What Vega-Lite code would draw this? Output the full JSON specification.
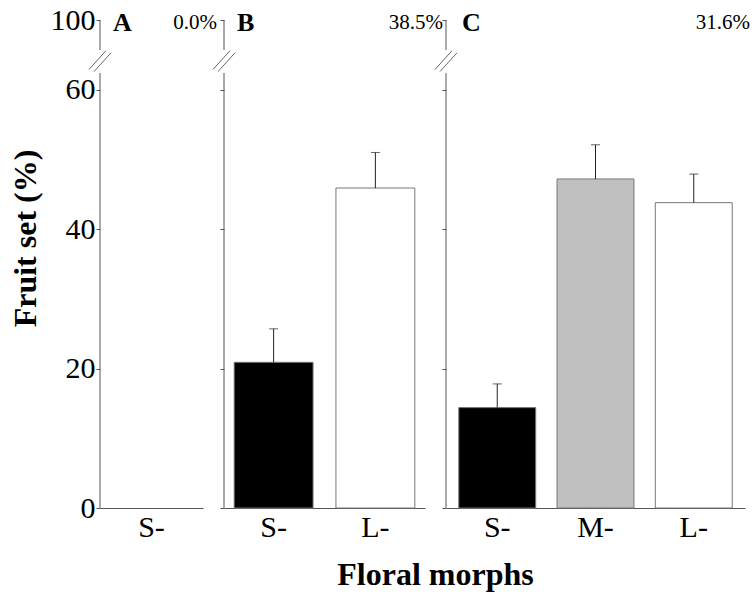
{
  "$schema": "https://vega.github.io/schema/vega-lite/v6.json",
  "background": "white",
  "padding": {"left": 9, "top": 5, "right": 5, "bottom": 5},
  "bounds": "flush",
  "spacing": 21,
  "config": {"font": "Liberation Serif", "view": {"stroke": null}, "text": {"font": "Liberation Serif"}},
  "title": {"text": "Floral morphs", "orient": "bottom", "anchor": "middle", "fontSize": 32, "fontWeight": "bold", "font": "Liberation Serif", "offset": 18, "dx": 56},
  "datasets": {
    "A": [{"morph": "S-", "value": 0, "upper": 0}],
    "B": [{"morph": "S-", "value": 20.9, "upper": 25.7}, {"morph": "L-", "value": 45.9, "upper": 51.0}],
    "C": [{"morph": "S-", "value": 14.4, "upper": 17.8}, {"morph": "M-", "value": 47.2, "upper": 52.1}, {"morph": "L-", "value": 43.8, "upper": 47.9}],
    "axisseg": [{"x": 0, "y": 0, "y2": 62.4}, {"x": 0, "y": 65.7, "y2": 70}],
    "breaks": [{"x": -11, "x2": 6, "y": 62.9, "y2": 65.6}, {"x": -6, "x2": 11, "y": 62.6, "y2": 65.3}],
    "labA": [{"x": 13, "y": 69.6, "t": "A", "p": "0.0%", "px": 117}],
    "labB": [{"x": 13, "y": 69.6, "t": "B", "p": "38.5%", "px": 219}],
    "labC": [{"x": 16, "y": 69.6, "t": "C", "p": "31.6%", "px": 304}]
  },
  "hconcat": [
    {
      "width": 103, "height": 488,
      "resolve": {"scale": {"x": "independent"}, "axis": {"x": "independent"}},
      "layer": [
        {
          "data": {"name": "A"},
          "mark": {"type": "bar", "opacity": 0},
          "encoding": {
            "x": {"field": "morph", "type": "nominal", "sort": ["S-"], "scale": {"paddingInner": 0.22, "paddingOuter": 0.1},
                  "axis": {"title": null, "labelAngle": 0, "ticks": false, "domainColor": "#555", "labelFont": "Liberation Serif", "labelFontSize": 30, "labelColor": "#000", "labelPadding": 4}},
            "y": {"field": "value", "type": "quantitative", "scale": {"domain": [0, 70], "nice": false, "zero": true},
                  "axis": {"values": [0, 20, 40, 60, 70], "labelExpr": "datum.value == 70 ? '100' : datum.label", "domain": false, "grid": false,
                           "tickSize": 4, "tickColor": "#555", "labelFont": "Liberation Serif", "labelFontSize": 30, "labelColor": "#000", "labelPadding": 1,
                           "title": "Fruit set (%)", "titleFont": "Liberation Serif", "titleFontSize": 32, "titleFontWeight": "bold", "titleColor": "#000", "titlePadding": 8, "titleY": 218}}
          }
        },
        {
          "data": {"name": "axisseg"},
          "mark": {"type": "rule", "color": "#555", "strokeWidth": 1},
          "encoding": {
            "x": {"field": "x", "type": "quantitative", "scale": {"domain": [0, 103], "nice": false}, "axis": null},
            "y": {"field": "y", "type": "quantitative", "scale": {"domain": [0, 70], "nice": false}, "title": "Fruit set (%)"},
            "y2": {"field": "y2"}
          }
        },
        {
          "data": {"name": "breaks"},
          "mark": {"type": "rule", "color": "#666", "strokeWidth": 1},
          "encoding": {
            "x": {"field": "x", "type": "quantitative", "scale": {"domain": [0, 103], "nice": false}, "axis": null},
            "x2": {"field": "x2"},
            "y": {"field": "y", "type": "quantitative", "scale": {"domain": [0, 70], "nice": false}, "title": "Fruit set (%)"},
            "y2": {"field": "y2"}
          }
        },
        {
          "data": {"name": "labA"},
          "mark": {"type": "text", "font": "Liberation Serif", "fontWeight": "bold", "fontSize": 26, "align": "left", "baseline": "middle", "color": "#000"},
          "encoding": {
            "x": {"field": "x", "type": "quantitative", "scale": {"domain": [0, 103], "nice": false}, "axis": null},
            "y": {"field": "y", "type": "quantitative", "scale": {"domain": [0, 70], "nice": false}, "title": "Fruit set (%)"},
            "text": {"field": "t"}
          }
        },
        {
          "data": {"name": "labA"},
          "mark": {"type": "text", "font": "Liberation Serif", "fontSize": 21, "align": "right", "baseline": "middle", "color": "#000"},
          "encoding": {
            "x": {"field": "px", "type": "quantitative", "scale": {"domain": [0, 103], "nice": false}, "axis": null},
            "y": {"field": "y", "type": "quantitative", "scale": {"domain": [0, 70], "nice": false}, "title": "Fruit set (%)"},
            "text": {"field": "p"}
          }
        }
      ]
    },
    {
      "width": 201, "height": 488,
      "resolve": {"scale": {"x": "independent"}, "axis": {"x": "independent"}},
      "layer": [
        {
          "layer": [
            {
              "data": {"name": "B"},
              "mark": {"type": "bar", "stroke": "#777", "strokeWidth": 1},
              "encoding": {
                "x": {"field": "morph", "type": "nominal", "sort": ["S-", "L-"], "scale": {"paddingInner": 0.225, "paddingOuter": 0.1},
                      "axis": {"title": null, "labelAngle": 0, "ticks": false, "domainColor": "#555", "labelFont": "Liberation Serif", "labelFontSize": 30, "labelColor": "#000", "labelPadding": 4}},
                "y": {"field": "value", "type": "quantitative", "scale": {"domain": [0, 70], "nice": false, "zero": true},
                      "axis": {"values": [0, 20, 40, 60, 70], "labels": false, "domain": false, "grid": false, "tickSize": 4, "tickColor": "#555", "title": null}},
                "color": {"field": "morph", "type": "nominal", "scale": {"domain": ["S-", "M-", "L-"], "range": ["#000000", "#c0c0c0", "#ffffff"]}, "legend": null}
              }
            },
            {
              "data": {"name": "B"},
              "mark": {"type": "rule", "color": "#222", "strokeWidth": 1},
              "encoding": {
                "x": {"field": "morph", "type": "nominal", "sort": ["S-", "L-"]},
                "y": {"field": "value", "type": "quantitative", "scale": {"domain": [0, 70], "nice": false}, "title": null},
                "y2": {"field": "upper"}
              }
            },
            {
              "data": {"name": "B"},
              "mark": {"type": "tick", "color": "#222", "size": 9, "thickness": 1},
              "encoding": {
                "x": {"field": "morph", "type": "nominal", "sort": ["S-", "L-"]},
                "y": {"field": "upper", "type": "quantitative", "scale": {"domain": [0, 70], "nice": false}, "title": null}
              }
            }
          ]
        },
        {
          "data": {"name": "axisseg"},
          "mark": {"type": "rule", "color": "#555", "strokeWidth": 1},
          "encoding": {
            "x": {"field": "x", "type": "quantitative", "scale": {"domain": [0, 201], "nice": false}, "axis": null},
            "y": {"field": "y", "type": "quantitative", "scale": {"domain": [0, 70], "nice": false}, "title": null},
            "y2": {"field": "y2"}
          }
        },
        {
          "data": {"name": "breaks"},
          "mark": {"type": "rule", "color": "#666", "strokeWidth": 1},
          "encoding": {
            "x": {"field": "x", "type": "quantitative", "scale": {"domain": [0, 201], "nice": false}, "axis": null},
            "x2": {"field": "x2"},
            "y": {"field": "y", "type": "quantitative", "scale": {"domain": [0, 70], "nice": false}, "title": null},
            "y2": {"field": "y2"}
          }
        },
        {
          "data": {"name": "labB"},
          "mark": {"type": "text", "font": "Liberation Serif", "fontWeight": "bold", "fontSize": 26, "align": "left", "baseline": "middle", "color": "#000"},
          "encoding": {
            "x": {"field": "x", "type": "quantitative", "scale": {"domain": [0, 201], "nice": false}, "axis": null},
            "y": {"field": "y", "type": "quantitative", "scale": {"domain": [0, 70], "nice": false}, "title": null},
            "text": {"field": "t"}
          }
        },
        {
          "data": {"name": "labB"},
          "mark": {"type": "text", "font": "Liberation Serif", "fontSize": 21, "align": "right", "baseline": "middle", "color": "#000"},
          "encoding": {
            "x": {"field": "px", "type": "quantitative", "scale": {"domain": [0, 201], "nice": false}, "axis": null},
            "y": {"field": "y", "type": "quantitative", "scale": {"domain": [0, 70], "nice": false}, "title": null},
            "text": {"field": "p"}
          }
        }
      ]
    },
    {
      "width": 299, "height": 488,
      "resolve": {"scale": {"x": "independent"}, "axis": {"x": "independent"}},
      "layer": [
        {
          "layer": [
            {
              "data": {"name": "C"},
              "mark": {"type": "bar", "stroke": "#777", "strokeWidth": 1},
              "encoding": {
                "x": {"field": "morph", "type": "nominal", "sort": ["S-", "M-", "L-"], "scale": {"paddingInner": 0.217, "paddingOuter": 0.13},
                      "axis": {"title": null, "labelAngle": 0, "ticks": false, "domainColor": "#555", "labelFont": "Liberation Serif", "labelFontSize": 30, "labelColor": "#000", "labelPadding": 4}},
                "y": {"field": "value", "type": "quantitative", "scale": {"domain": [0, 70], "nice": false, "zero": true},
                      "axis": {"values": [0, 20, 40, 60, 70], "labels": false, "domain": false, "grid": false, "tickSize": 4, "tickColor": "#555", "title": null}},
                "color": {"field": "morph", "type": "nominal", "scale": {"domain": ["S-", "M-", "L-"], "range": ["#000000", "#c0c0c0", "#ffffff"]}, "legend": null}
              }
            },
            {
              "data": {"name": "C"},
              "mark": {"type": "rule", "color": "#222", "strokeWidth": 1},
              "encoding": {
                "x": {"field": "morph", "type": "nominal", "sort": ["S-", "M-", "L-"]},
                "y": {"field": "value", "type": "quantitative", "scale": {"domain": [0, 70], "nice": false}, "title": null},
                "y2": {"field": "upper"}
              }
            },
            {
              "data": {"name": "C"},
              "mark": {"type": "tick", "color": "#222", "size": 9, "thickness": 1},
              "encoding": {
                "x": {"field": "morph", "type": "nominal", "sort": ["S-", "M-", "L-"]},
                "y": {"field": "upper", "type": "quantitative", "scale": {"domain": [0, 70], "nice": false}, "title": null}
              }
            }
          ]
        },
        {
          "data": {"name": "axisseg"},
          "mark": {"type": "rule", "color": "#555", "strokeWidth": 1},
          "encoding": {
            "x": {"field": "x", "type": "quantitative", "scale": {"domain": [0, 299], "nice": false}, "axis": null},
            "y": {"field": "y", "type": "quantitative", "scale": {"domain": [0, 70], "nice": false}, "title": null},
            "y2": {"field": "y2"}
          }
        },
        {
          "data": {"name": "breaks"},
          "mark": {"type": "rule", "color": "#666", "strokeWidth": 1},
          "encoding": {
            "x": {"field": "x", "type": "quantitative", "scale": {"domain": [0, 299], "nice": false}, "axis": null},
            "x2": {"field": "x2"},
            "y": {"field": "y", "type": "quantitative", "scale": {"domain": [0, 70], "nice": false}, "title": null},
            "y2": {"field": "y2"}
          }
        },
        {
          "data": {"name": "labC"},
          "mark": {"type": "text", "font": "Liberation Serif", "fontWeight": "bold", "fontSize": 26, "align": "left", "baseline": "middle", "color": "#000"},
          "encoding": {
            "x": {"field": "x", "type": "quantitative", "scale": {"domain": [0, 299], "nice": false}, "axis": null},
            "y": {"field": "y", "type": "quantitative", "scale": {"domain": [0, 70], "nice": false}, "title": null},
            "text": {"field": "t"}
          }
        },
        {
          "data": {"name": "labC"},
          "mark": {"type": "text", "font": "Liberation Serif", "fontSize": 21, "align": "right", "baseline": "middle", "color": "#000"},
          "encoding": {
            "x": {"field": "px", "type": "quantitative", "scale": {"domain": [0, 299], "nice": false}, "axis": null},
            "y": {"field": "y", "type": "quantitative", "scale": {"domain": [0, 70], "nice": false}, "title": null},
            "text": {"field": "p"}
          }
        }
      ]
    }
  ]
}
